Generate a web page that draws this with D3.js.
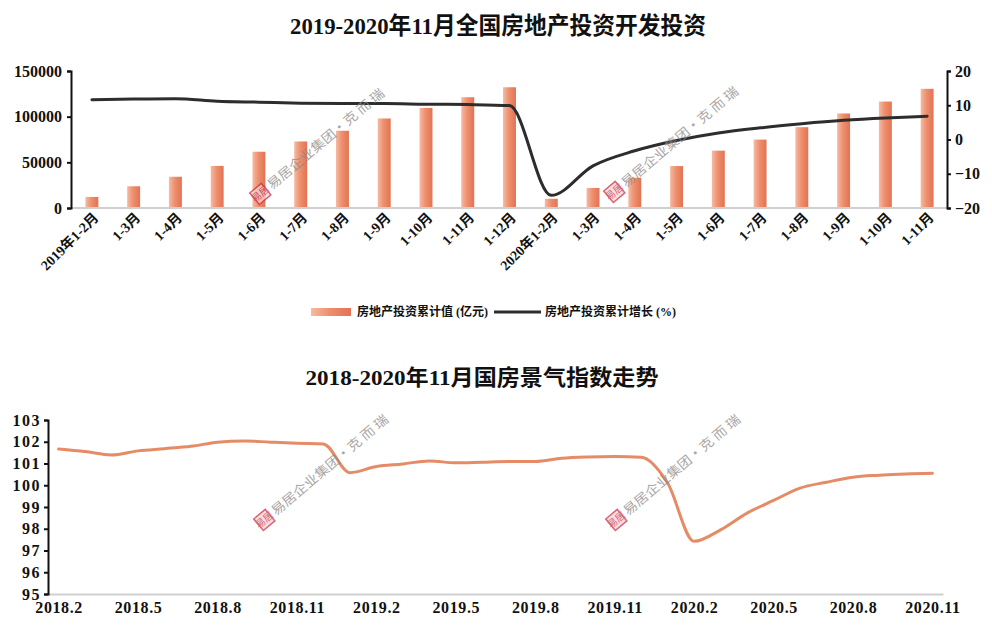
<!DOCTYPE html>
<html><head><meta charset="utf-8">
<script src="https://cdn.jsdelivr.net/npm/d3@7/dist/d3.min.js"></script>
<style>
html,body{margin:0;padding:0;background:#fff;}
svg{display:block;}
</style></head>
<body><svg id="c" width="992" height="632"></svg>
<script>
// ---------- DATA ----------
const topTitle = "2019-2020年11月全国房地产投资开发投资";
const periods = ["2019年1-2月","1-3月","1-4月","1-5月","1-6月","1-7月","1-8月","1-9月","1-10月","1-11月","1-12月",
                 "2020年1-2月","1-3月","1-4月","1-5月","1-6月","1-7月","1-8月","1-9月","1-10月","1-11月"];
const investValue = [12090,23803,34217,46075,61609,72843,84589,98008,109603,121265,132194,
                     10115,21963,33103,45920,62780,74895,88454,103484,116556,130492];
const investGrowth = [11.6,11.8,11.9,11.2,10.9,10.6,10.5,10.5,10.3,10.2,9.9,
                      -16.3,-7.7,-3.3,-0.3,1.9,3.4,4.6,5.6,6.3,6.8];
const leftTicks = [0,50000,100000,150000];
const rightTicks = [-20,-10,0,10,20];
const legendNames = ["房地产投资累计值 (亿元)","房地产投资累计增长 (%)"];

const bottomTitle = "2018-2020年11月国房景气指数走势";
const months = ["2018.2","2018.3","2018.4","2018.5","2018.6","2018.7","2018.8","2018.9","2018.10","2018.11","2018.12",
                "2019.1","2019.2","2019.3","2019.4","2019.5","2019.6","2019.7","2019.8","2019.9","2019.10","2019.11","2019.12",
                "2020.1","2020.2","2020.3","2020.4","2020.5","2020.6","2020.7","2020.8","2020.9","2020.10","2020.11"];
const climateIndex = [101.67,101.55,101.39,101.58,101.68,101.79,101.98,102.04,101.98,101.93,101.90,
                      100.58,100.86,100.98,101.12,101.03,101.06,101.09,101.09,101.24,101.30,101.32,101.29,
                      100.10,97.42,97.95,98.72,99.30,99.87,100.14,100.37,100.46,100.52,100.55];
const monthTicks = ["2018.2","2018.5","2018.8","2018.11","2019.2","2019.5","2019.8","2019.11","2020.2","2020.5","2020.8","2020.11"];
const indexTicks = [95,96,97,98,99,100,101,102,103];
const watermarkText = "易居企业集团·克 而 瑞";

// ---------- STYLE ----------
const serif = "'Liberation Serif','Times New Roman','Noto Sans CJK SC',serif";
const svg = d3.select("#c");
const defs = svg.append("defs");
const grad = defs.append("linearGradient").attr("id","barGrad").attr("x1",0).attr("x2",1).attr("y1",0).attr("y2",0);
grad.append("stop").attr("offset","0%").attr("stop-color","#F6BBA3");
grad.append("stop").attr("offset","45%").attr("stop-color","#EE8F6E");
grad.append("stop").attr("offset","100%").attr("stop-color","#E27353");

// ---------- TOP CHART ----------
svg.append("text").attr("x",498).attr("y",34).attr("text-anchor","middle")
  .attr("font-family",serif).attr("font-weight","bold").attr("font-size",24)
  .attr("textLength",416).attr("lengthAdjust","spacingAndGlyphs")
  .attr("fill","#111").text(topTitle);

const x = d3.scaleBand().domain(d3.range(periods.length)).range([71,948]).paddingInner(0.69).paddingOuter(0.345);
const yL = d3.scaleLinear().domain([0,150000]).range([208,71]);
const yR = d3.scaleLinear().domain([-20,20]).range([208,71]);

const topG = svg.append("g");
topG.selectAll("rect.bar").data(investValue).join("rect").attr("class","bar")
  .attr("x",(d,i)=>x(i)).attr("width",x.bandwidth())
  .attr("y",d=>yL(d)).attr("height",d=>yL(0)-yL(d))
  .attr("fill","url(#barGrad)");

topG.append("line").attr("x1",71).attr("x2",947).attr("y1",yL(0)).attr("y2",yL(0))
  .attr("stroke","#cfcfcf").attr("stroke-width",2);

const axL = topG.append("g").attr("transform","translate(71,0)")
  .call(d3.axisLeft(yL).tickValues(leftTicks).tickSize(4).tickPadding(5).tickFormat(d3.format("d")));
const axR = topG.append("g").attr("transform","translate(947,0)")
  .call(d3.axisRight(yR).tickValues(rightTicks).tickSize(4).tickPadding(4));
[axL,axR].forEach(a=>{
  a.select(".domain").attr("stroke","#111").attr("stroke-width",2);
  a.selectAll(".tick line").attr("stroke","#111").attr("stroke-width",2);
  a.selectAll("text").attr("font-family",serif).attr("font-weight","bold").attr("font-size",16).attr("fill","#111");
});

const line = d3.line().x((d,i)=>x(i)+x.bandwidth()/2).y(d=>yR(d)).curve(d3.curveMonotoneX);
topG.append("path").datum(investGrowth).attr("d",line)
  .attr("fill","none").attr("stroke","#2d2d2d").attr("stroke-width",3).attr("stroke-linecap","round");

topG.selectAll("text.xl").data(periods).join("text").attr("class","xl")
  .attr("transform",(d,i)=>`translate(${x(i)+x.bandwidth()/2+4},${215}) rotate(-45)`)
  .attr("text-anchor","end").attr("dy","0.35em")
  .attr("font-family",serif).attr("font-weight","bold").attr("font-size",14).attr("fill","#111")
  .text(d=>d);

const lg = svg.append("g");
lg.append("rect").attr("x",311).attr("y",308).attr("width",40).attr("height",8).attr("fill","url(#barGrad)");
lg.append("text").attr("x",357).attr("y",312).attr("dy","0.35em").attr("font-family",serif)
  .attr("font-weight","bold").attr("font-size",12).attr("fill","#111").text(legendNames[0]);
lg.append("line").attr("x1",494).attr("x2",541).attr("y1",312).attr("y2",312).attr("stroke","#2d2d2d").attr("stroke-width",3);
lg.append("text").attr("x",545).attr("y",312).attr("dy","0.35em").attr("font-family",serif)
  .attr("font-weight","bold").attr("font-size",12).attr("fill","#111").text(legendNames[1]);

// ---------- BOTTOM CHART ----------
svg.append("text").attr("x",482).attr("y",385).attr("text-anchor","middle")
  .attr("font-family",serif).attr("font-weight","bold").attr("font-size",22)
  .attr("textLength",353).attr("lengthAdjust","spacingAndGlyphs")
  .attr("fill","#111").text(bottomTitle);

const xb = d3.scalePoint().domain(months).range([48,943]).padding(0.4);
const yb = d3.scaleLinear().domain([95,103]).range([594,420]);
const bot = svg.append("g");

const axB = bot.append("g").attr("transform","translate(0,594)")
  .call(d3.axisBottom(xb).tickValues(monthTicks).tickSize(0).tickPadding(8));
axB.select(".domain").attr("stroke","#d0d0d0").attr("stroke-width",2);
axB.selectAll("text").attr("font-family",serif).attr("font-weight","bold").attr("font-size",16)
  .attr("letter-spacing","0.6px").attr("fill","#111");

const axBL = bot.append("g").attr("transform","translate(48,0)")
  .call(d3.axisLeft(yb).tickValues(indexTicks).tickSize(4).tickPadding(3));
axBL.select(".domain").attr("stroke","#111").attr("stroke-width",2);
axBL.selectAll(".tick line").attr("stroke","#111").attr("stroke-width",2);
axBL.selectAll("text").attr("font-family",serif).attr("font-weight","bold").attr("font-size",16)
  .attr("letter-spacing","1.5px").attr("fill","#111");

const lineB = d3.line().x((d,i)=>xb(months[i])).y(d=>yb(d)).curve(d3.curveMonotoneX);
bot.append("path").datum(climateIndex).attr("d",lineB)
  .attr("fill","none").attr("stroke","#E58B66").attr("stroke-width",3).attr("stroke-linecap","round");

// ---------- WATERMARKS ----------
const marks = [[272,190],[626,188],[276,516],[628,516]];
marks.forEach(([mx,my])=>{
  const g = svg.append("g").attr("transform",`translate(${mx},${my}) rotate(-40)`).attr("opacity",0.75);
  g.append("rect").attr("x",-19).attr("y",-12).attr("width",15).attr("height",15)
    .attr("fill","#f6d3d8").attr("stroke","#c8334a").attr("stroke-width",1.5);
  g.append("text").attr("x",-11.5).attr("y",-1).attr("text-anchor","middle")
    .attr("font-family","'Noto Sans CJK SC',sans-serif").attr("font-size",10).attr("fill","#c8334a").text("易居");
  g.append("text").attr("x",0).attr("y",0)
    .attr("font-family","'Noto Sans CJK SC',sans-serif").attr("font-size",13)
    .attr("textLength",148).attr("lengthAdjust","spacingAndGlyphs")
    .attr("fill","#8a8a8a").text(watermarkText);
});
</script>
</body></html>
